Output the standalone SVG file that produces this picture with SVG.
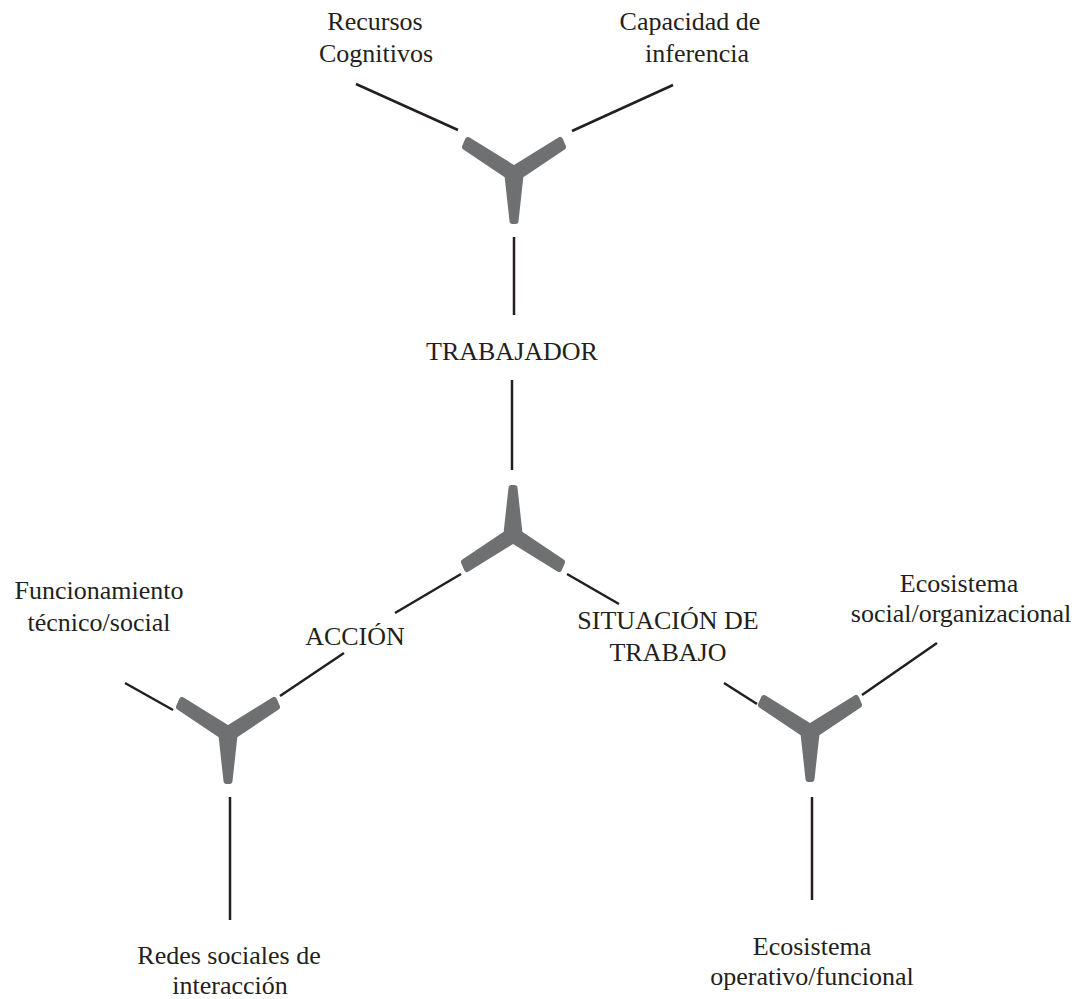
<svg xmlns="http://www.w3.org/2000/svg" width="1077" height="999" viewBox="0 0 1077 999">
<style>
.t{font-family:"Liberation Serif","Times New Roman",serif;font-size:26px;fill:#231f20;text-anchor:middle}
.c{stroke:#231f20;stroke-width:2.5;fill:none;stroke-linecap:butt}
.y{fill:#6e6f72;stroke:#6e6f72;stroke-width:6;stroke-linejoin:round}
</style>
<defs>
<filter id="soft" x="-20%" y="-20%" width="140%" height="140%"><feGaussianBlur stdDeviation="0.7"/></filter>
<polygon id="yshape" class="y" points="-46,-30 0,-1.5 46,-30 49,-23 6.5,5.5 1.5,51 -1.5,51 -6.5,5.5 -49,-23"/>
</defs>
<rect width="1077" height="999" fill="#ffffff"/>
<g id="connectors">
<line class="c" x1="356" y1="84" x2="458" y2="130"/>
<line class="c" x1="673" y1="85" x2="572" y2="131"/>
<line class="c" x1="514" y1="237" x2="514" y2="315"/>
<line class="c" x1="512" y1="380" x2="512" y2="470"/>
<line class="c" x1="461" y1="574" x2="395" y2="613"/>
<line class="c" x1="567" y1="574" x2="619" y2="604"/>
<line class="c" x1="125" y1="683" x2="173" y2="710"/>
<line class="c" x1="344" y1="653" x2="280" y2="696"/>
<line class="c" x1="230" y1="797" x2="230" y2="920"/>
<line class="c" x1="724" y1="683" x2="757" y2="704"/>
<line class="c" x1="937" y1="643" x2="862" y2="695"/>
<line class="c" x1="812" y1="797" x2="812" y2="900"/>
</g>
<g id="node-top-y"><use href="#yshape" transform="translate(514,170)" filter="url(#soft)"/></g>
<g id="node-center-y"><use href="#yshape" transform="translate(513,539) rotate(180)" filter="url(#soft)"/></g>
<g id="node-left-y"><use href="#yshape" transform="translate(228,730)" filter="url(#soft)"/></g>
<g id="node-right-y"><use href="#yshape" transform="translate(810,728)" filter="url(#soft)"/></g>
<g id="label-recursos"><text class="t" x="375" y="30">Recursos</text><text class="t" x="376" y="62">Cognitivos</text></g>
<g id="label-capacidad"><text class="t" x="690" y="30">Capacidad de</text><text class="t" x="697" y="62">inferencia</text></g>
<g id="label-trabajador"><text class="t" x="512" y="360">TRABAJADOR</text></g>
<g id="label-funcionamiento"><text class="t" x="99" y="599">Funcionamiento</text><text class="t" x="99" y="631">técnico/social</text></g>
<g id="label-accion"><text class="t" x="355" y="645">ACCIÓN</text></g>
<g id="label-situacion"><text class="t" x="668" y="629">SITUACIÓN DE</text><text class="t" x="668" y="661">TRABAJO</text></g>
<g id="label-eco-social"><text class="t" x="959" y="592">Ecosistema</text><text class="t" x="961" y="622">social/organizacional</text></g>
<g id="label-redes"><text class="t" x="229" y="964">Redes sociales de</text><text class="t" x="230" y="994">interacción</text></g>
<g id="label-eco-operativo"><text class="t" x="812" y="955">Ecosistema</text><text class="t" x="812" y="985">operativo/funcional</text></g>
</svg>
